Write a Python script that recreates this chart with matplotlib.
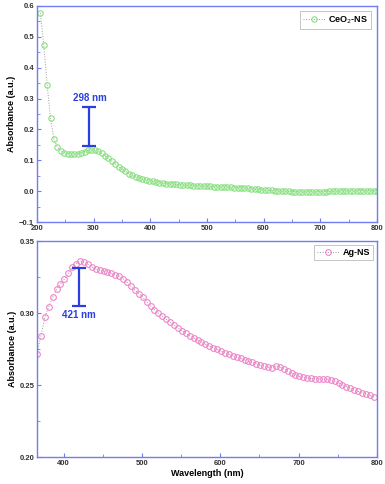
import numpy as np
import matplotlib

matplotlib.use("Agg")
from matplotlib import pyplot as plt
from matplotlib.ticker import MultipleLocator

plt.rcParams["font.family"] = ["Liberation Sans", "DejaVu Sans"]

# CeO2-NS spectrum, sampled every 6 nm from 206 to 800 nm
CEO2_WL = np.arange(206, 801, 6)
CEO2_ABS = [
    0.577, 0.472, 0.343, 0.236, 0.168, 0.143, 0.131, 0.125, 0.122, 0.120,
    0.120, 0.121, 0.124, 0.128, 0.132, 0.134, 0.133, 0.129, 0.123, 0.115,
    0.107, 0.098, 0.089, 0.080, 0.072, 0.064, 0.057, 0.051, 0.046, 0.042,
    0.039, 0.036, 0.034, 0.032, 0.030, 0.028, 0.027, 0.025, 0.024, 0.023,
    0.022, 0.021, 0.020, 0.020, 0.019, 0.018, 0.018, 0.017, 0.017, 0.016,
    0.016, 0.015, 0.015, 0.014, 0.014, 0.013, 0.013, 0.012, 0.012, 0.011,
    0.010, 0.009, 0.008, 0.007, 0.006, 0.005, 0.004, 0.003, 0.003, 0.002,
    0.001, 0.001, 0.000, 0.000, -0.001, -0.001, -0.002, -0.002, -0.002, -0.002,
    -0.002, -0.002, -0.001, -0.001, -0.001, 0.000, 0.000, 0.000, 0.000, 0.001,
    0.001, 0.001, 0.001, 0.002, 0.002, 0.002, 0.002, 0.002, 0.002, 0.002,
]

# Ag-NS spectrum, sampled every 5 nm from 366 to 796 nm
AG_WL = np.arange(366, 797, 5)
AG_ABS = [
    0.2716, 0.2843, 0.2970, 0.3044, 0.3110, 0.3164, 0.3200, 0.3236, 0.3275, 0.3317,
    0.3344, 0.3360, 0.3356, 0.3340, 0.3320, 0.3305, 0.3300, 0.3290, 0.3286, 0.3277,
    0.3266, 0.3256, 0.3238, 0.3213, 0.3187, 0.3160, 0.3136, 0.3110, 0.3080, 0.3050,
    0.3025, 0.3000, 0.2980, 0.2958, 0.2938, 0.2917, 0.2896, 0.2878, 0.2860, 0.2843,
    0.2827, 0.2813, 0.2800, 0.2785, 0.2771, 0.2760, 0.2748, 0.2737, 0.2725, 0.2714,
    0.2704, 0.2695, 0.2686, 0.2677, 0.2667, 0.2658, 0.2649, 0.2640, 0.2633, 0.2626,
    0.2623, 0.2633, 0.2628, 0.2614, 0.2598, 0.2582, 0.2570, 0.2561, 0.2554, 0.2550,
    0.2547, 0.2545, 0.2545, 0.2545, 0.2543, 0.2538, 0.2529, 0.2517, 0.2503, 0.2490,
    0.2478, 0.2466, 0.2457, 0.2448, 0.2439, 0.2430, 0.2420,
]

CEO2_PEAK = 298
AG_PEAK = 421

FRAME = "#6f7cf2"
TICK_TEXT = "#333333"
ANNOT = "#2b3fe0"


def style_axis(ax):
    for spine in ax.spines.values():
        spine.set_color(FRAME)
        spine.set_linewidth(1.0)
    ax.tick_params(which="both", direction="in", colors=FRAME, labelcolor=TICK_TEXT,
                   labelsize=5.5, pad=2)
    ax.tick_params(which="major", length=3)
    ax.tick_params(which="minor", length=2)
    for lab in ax.get_xticklabels() + ax.get_yticklabels():
        lab.set_fontweight("bold")


def style_legend(leg):
    leg.get_frame().set_edgecolor("#aaaaaa")
    leg.get_frame().set_linewidth(0.6)
    for t in leg.get_texts():
        t.set_fontweight("bold")


fig = plt.figure(figsize=(3.85, 4.84), dpi=100)
ax1 = fig.add_axes([0.096, 0.541, 0.883, 0.447])
ax2 = fig.add_axes([0.096, 0.055, 0.883, 0.447])

ax1.plot(CEO2_WL, CEO2_ABS, linestyle=":", color="#9a9a9a", linewidth=0.7,
         marker="o", markersize=3.9, markerfacecolor="none",
         markeredgecolor="#86e07e", markeredgewidth=0.8, label="CeO$_2$-NS")
ax1.set_xlim(200, 800)
ax1.set_ylim(-0.1, 0.6)
ax1.xaxis.set_major_locator(MultipleLocator(100))
ax1.xaxis.set_minor_locator(MultipleLocator(50))
ax1.yaxis.set_major_locator(MultipleLocator(0.1))
ax1.yaxis.set_minor_locator(MultipleLocator(0.05))
ax1.set_ylabel("Absorbance (a.u.)", fontsize=6.5, fontweight="bold", labelpad=2)
style_axis(ax1)

# peak marker 298 nm
ax1.errorbar([CEO2_PEAK - 6], [0.272], yerr=[[0.125], [0]], fmt="none",
             ecolor=ANNOT, elinewidth=1.6, capsize=5, capthick=1.6)
ax1.text(CEO2_PEAK - 4, 0.285, f"{CEO2_PEAK} nm", color=ANNOT, fontsize=7,
         fontweight="bold", ha="center", va="bottom")

leg1 = ax1.legend(loc="upper right", fontsize=6.5, frameon=True, fancybox=False,
                  handlelength=2.4, borderpad=0.35, handletextpad=0.4,
                  borderaxespad=0.6)
style_legend(leg1)

ax2.plot(AG_WL, AG_ABS, linestyle=":", color="#9a9a9a", linewidth=0.7,
         marker="o", markersize=4.1, markerfacecolor="none",
         markeredgecolor="#ee86c8", markeredgewidth=0.8, label="Ag-NS")
ax2.set_xlim(366, 800)
ax2.set_ylim(0.20, 0.35)
ax2.xaxis.set_major_locator(MultipleLocator(100))
ax2.xaxis.set_minor_locator(MultipleLocator(50))
ax2.yaxis.set_major_locator(MultipleLocator(0.05))
ax2.yaxis.set_minor_locator(MultipleLocator(0.025))
ax2.yaxis.set_major_formatter(plt.FormatStrFormatter("%.2f"))
ax2.set_ylabel("Absorbance (a.u.)", fontsize=6.5, fontweight="bold", labelpad=2)
ax2.set_xlabel("Wavelength (nm)", fontsize=6.5, fontweight="bold", labelpad=1)
style_axis(ax2)

# peak marker 421 nm
ax2.errorbar([AG_PEAK - 1], [0.3053], yerr=[[0], [0.0257]], fmt="none",
             ecolor=ANNOT, elinewidth=1.6, capsize=5, capthick=1.6)
ax2.text(AG_PEAK - 1, 0.3025, f"{AG_PEAK} nm", color=ANNOT, fontsize=7,
         fontweight="bold", ha="center", va="top")

leg2 = ax2.legend(loc="upper right", fontsize=6.5, frameon=True, fancybox=False,
                  handlelength=2.4, borderpad=0.35, handletextpad=0.4,
                  borderaxespad=0.4)
style_legend(leg2)

fig.savefig("out.png", dpi=100)
